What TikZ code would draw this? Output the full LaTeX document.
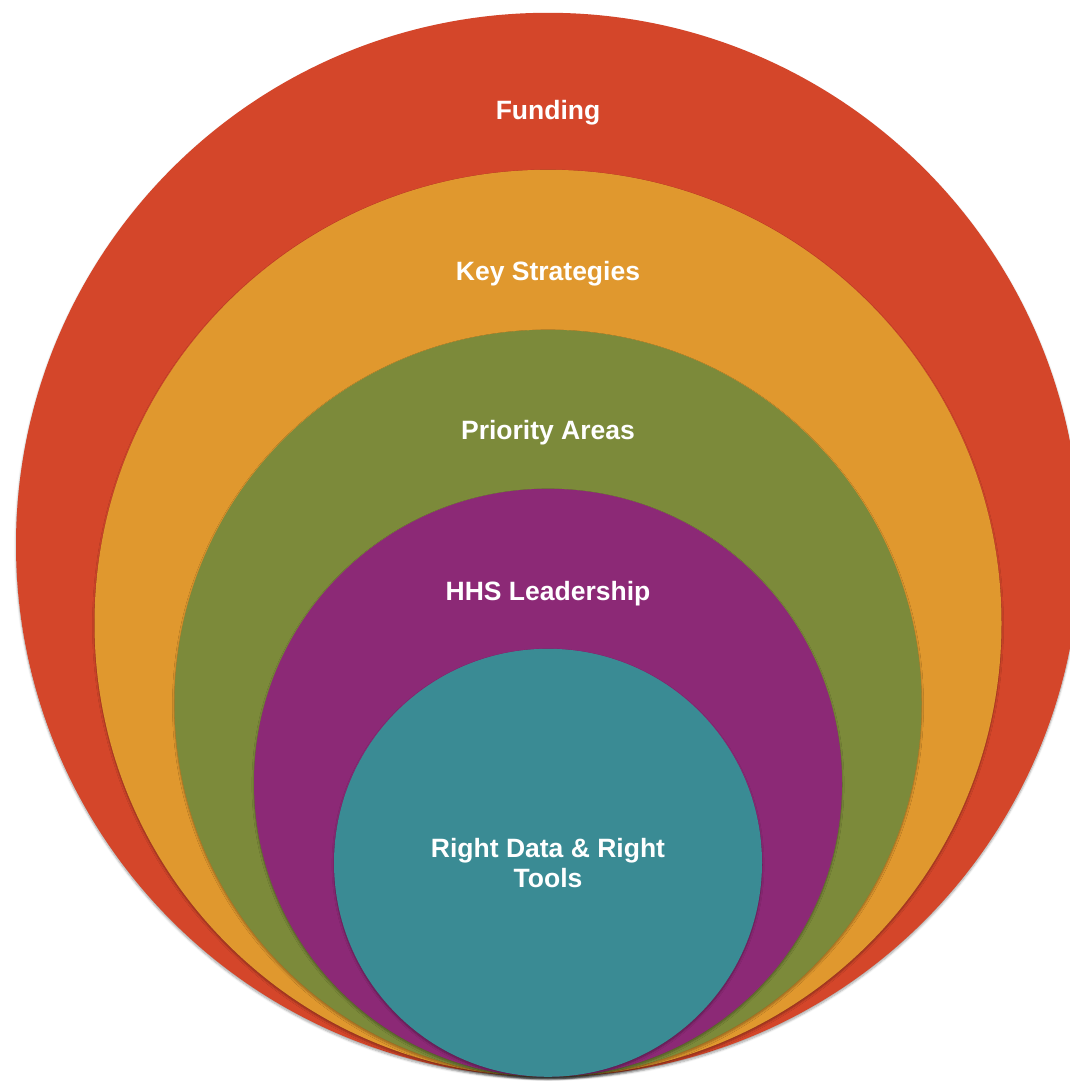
\documentclass[tikz,border=0pt]{standalone}
\usepackage{fontspec}
\setmainfont{Liberation Sans}
\usepackage{tikz}
\usetikzlibrary{positioning,shadows.blur}
\definecolor{FundRed}{HTML}{D4462A}
\definecolor{KeyOrange}{HTML}{E0982E}
\definecolor{AreaGreen}{HTML}{7C8A3A}
\definecolor{LeadPurple}{HTML}{8C2976}
\definecolor{DataTeal}{HTML}{3A8B94}

\begin{document}
\begin{tikzpicture}[
x=1pt,y=1pt,
ring/.style={circle,inner sep=0pt,anchor=south,
  blur shadow={shadow xshift=0pt,shadow yshift=-2pt,shadow blur steps=6,shadow opacity=35}},
lbl/.style={text=white,align=center,font=\bfseries\fontsize{26.5}{30}\selectfont}
]
\useasboundingbox (0,0) rectangle (1070,1081);
\clip (0,0) rectangle (1070,1081);
\coordinate (base) at (548,4);
% nested circles, all touching at the bottom
\node[ring,fill=FundRed,minimum size=1064pt] (funding) at (base) {};
\node[ring,fill=KeyOrange,minimum size=907pt] (strategies) at (base) {};
\node[ring,fill=AreaGreen,minimum size=747pt] (areas) at (base) {};
\node[ring,fill=LeadPurple,minimum size=588pt] (leadership) at (base) {};
\node[ring,fill=DataTeal,minimum size=428pt] (data) at (base) {};
% labels
\node[lbl] (fundingtxt) at ([yshift=-100pt]funding.north) {Funding};
\node[lbl] (strategiestxt) at ([yshift=-104pt]strategies.north) {Key Strategies};
\node[lbl] (areastxt) at ([yshift=-103pt]areas.north) {Priority Areas};
\node[lbl] (leadershiptxt) at ([yshift=-105pt]leadership.north) {HHS Leadership};
\node[lbl] (datatxt) at (data.center) {Right Data \& Right\\Tools};
\end{tikzpicture}
\end{document}
